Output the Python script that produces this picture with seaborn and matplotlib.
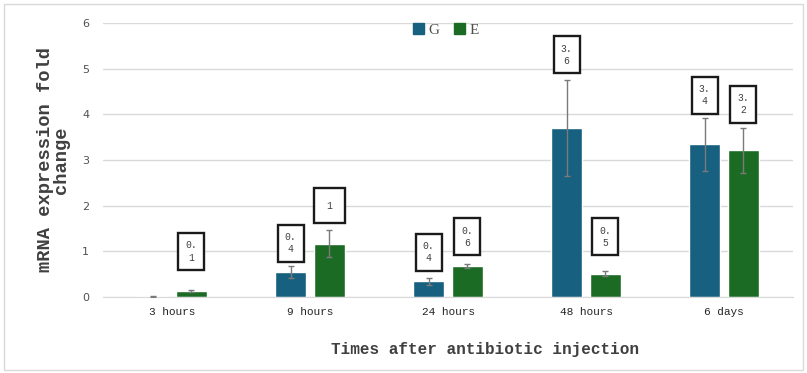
import numpy as np
import pandas as pd
import matplotlib.pyplot as plt
import matplotlib.patches as mpatches
import seaborn as sns

times = ['3 hours', '9 hours', '24 hours', '48 hours', '6 days']
groups = ['G', 'E']
g_values = [0.02, 0.54, 0.34, 3.71, 3.34]
e_values = [0.13, 1.17, 0.68, 0.51, 3.21]
g_err = [0.01, 0.13, 0.07, 1.05, 0.57]
e_err = [0.02, 0.30, 0.04, 0.05, 0.49]
g_labels = [None, '0.\n4', '0.\n4', '3.\n6', '3.\n4']
e_labels = ['0.\n1', '1', '0.\n6', '0.\n5', '3.\n2']
g_label_y = [None, 1.18, 0.98, 5.30, 4.42]
e_label_y = [1.00, 2.00, 1.32, 1.32, 4.22]

colors = {'G': '#17607f', 'E': '#1c6b25'}

df = pd.DataFrame({
    'time': times * 2,
    'group': ['G'] * 5 + ['E'] * 5,
    'value': g_values + e_values,
})

sns.set_style('white')
plt.rcParams['font.family'] = ['DejaVu Sans']

fig = plt.figure(figsize=(8.07, 3.73), dpi=100)
ax = fig.add_axes([103 / 807, 1 - 297 / 373, 690 / 807, 274 / 373])

sns.barplot(data=df, x='time', y='value', hue='group', order=times,
            hue_order=groups, palette=colors, width=0.56, gap=0.2,
            errorbar=None, saturation=1, legend=False, ax=ax)

# error bars and value boxes on top of each bar
for grp, vals, errs, labels, label_y in [
        ('G', g_values, g_err, g_labels, g_label_y),
        ('E', e_values, e_err, e_labels, e_label_y)]:
    container = ax.containers[groups.index(grp)]
    xs = [p.get_x() + p.get_width() / 2 for p in container.patches]
    ax.errorbar(xs, vals, yerr=errs, fmt='none', ecolor='#7a7a7a',
                elinewidth=1, capsize=2.5, capthick=1, zorder=3)
    for x, lab, ly in zip(xs, labels, label_y):
        if lab is None:
            continue
        pad = 0.75 if '\n' in lab else 1.3
        ax.text(x, ly, lab, ha='center', va='center', fontsize=7,
                family='Liberation Mono', color='#404040', linespacing=1.3,
                bbox=dict(boxstyle=f'square,pad={pad}', fc='white',
                          ec='#1a1a1a', lw=1.7), zorder=4)

ax.set_ylim(0, 6)
ax.set_xlim(-0.5, 4.5)
ax.set_yticks(range(0, 7))
ax.yaxis.grid(True, color='#d9d9d9', lw=1)
ax.set_axisbelow(True)
for s in ['top', 'right', 'left']:
    ax.spines[s].set_visible(False)
ax.spines['bottom'].set_color('#d9d9d9')
ax.tick_params(axis='y', length=0, labelsize=8, labelcolor='#505050', pad=10)
ax.tick_params(axis='x', length=0, pad=7)
for t in ax.get_xticklabels():
    t.set_fontfamily('Liberation Mono')
    t.set_fontsize(8)
    t.set_color('#252525')

ax.set_xlabel('Times after antibiotic injection', family='Liberation Mono',
              fontsize=11.5, fontweight='bold', color='#404040')
ax.xaxis.set_label_coords((485 - 103) / 690, -(342 - 297) / 274)
ax.set_ylabel('mRNA expression fold\nchange', family='Liberation Mono',
              fontsize=13.5, fontweight='bold', color='#404040',
              linespacing=0.95)
ax.yaxis.set_label_coords(-(103 - 70) / 690, 0.5)

handles = [mpatches.Patch(color=colors[g], label=g) for g in groups]
leg = fig.legend(handles=handles, loc='center', bbox_to_anchor=(446 / 807, 1 - 30 / 373),
                 ncol=2, frameon=False, handlelength=0.7, handleheight=0.7,
                 handletextpad=0.3, columnspacing=1.0,
                 prop={'family': 'Liberation Serif', 'size': 11})
for t in leg.get_texts():
    t.set_color('#505050')

fig.patches.append(mpatches.Rectangle((4 / 807, 3 / 373), 799 / 807, 366 / 373,
                                      transform=fig.transFigure, fill=False,
                                      ec='#d9d9d9', lw=1))

fig.savefig('out.png', dpi=100)
